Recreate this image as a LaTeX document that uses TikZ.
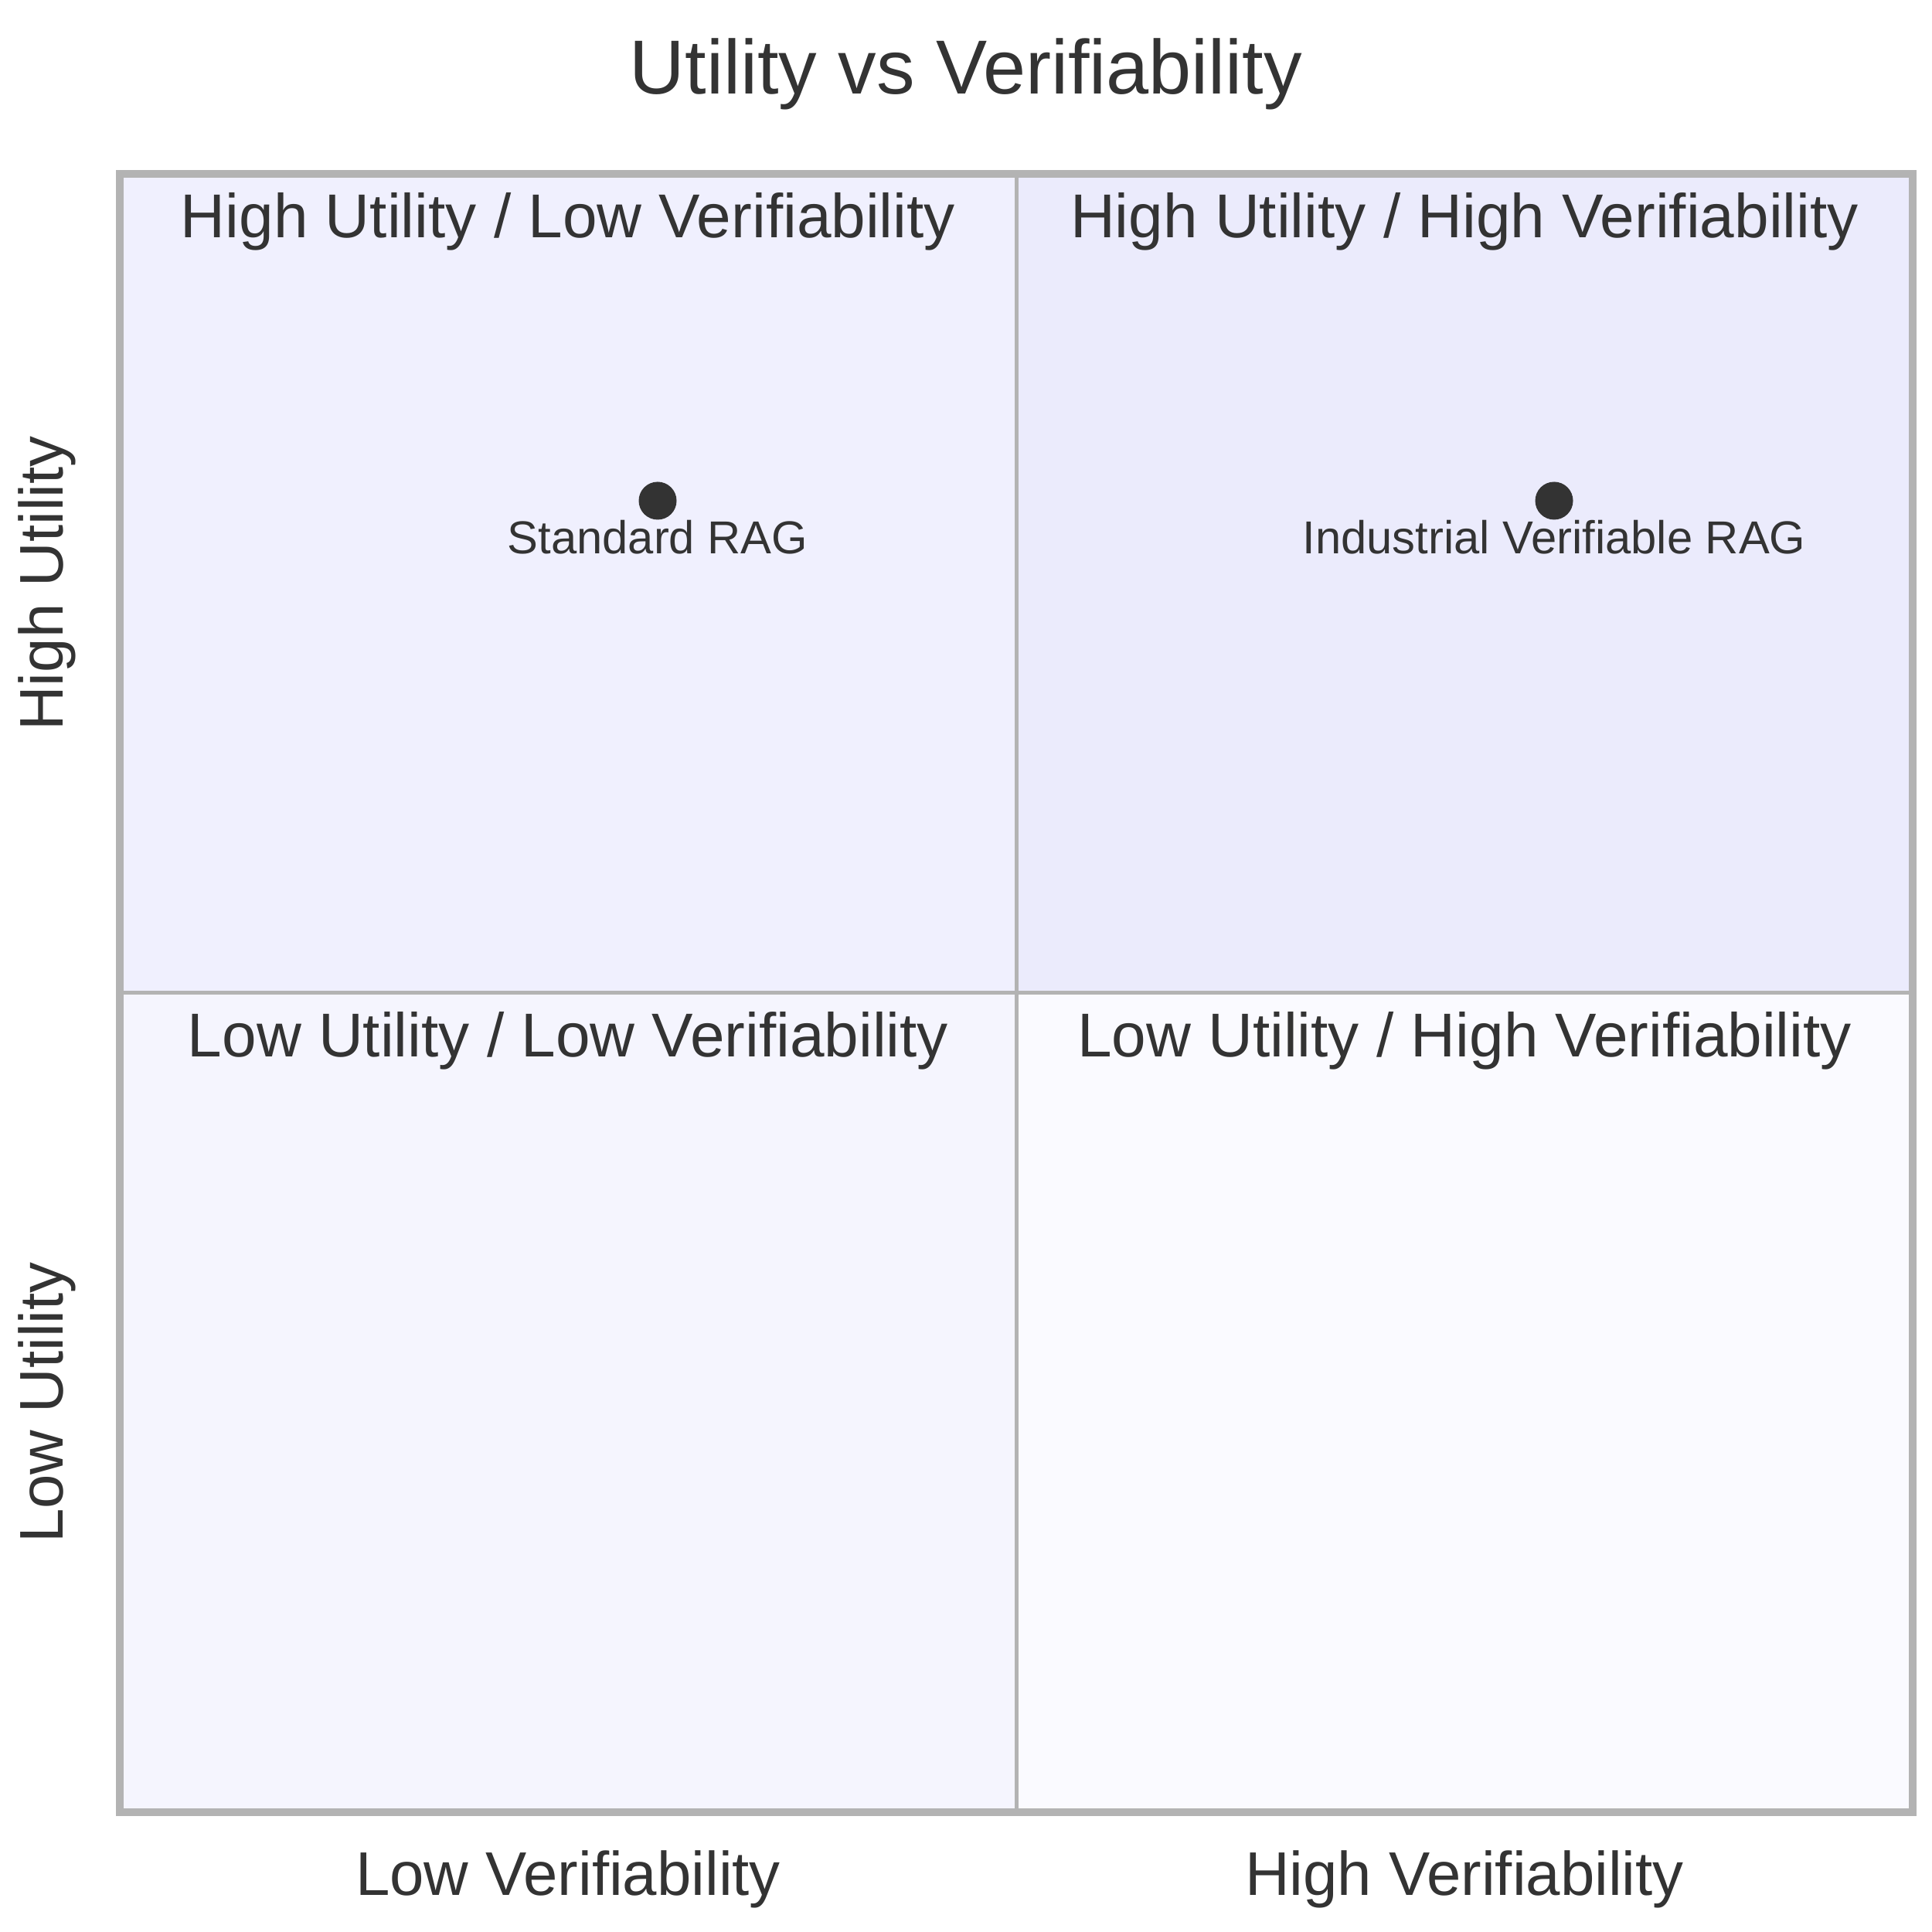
\documentclass[tikz,border=0pt]{standalone}
\usepackage{fontspec}
\setmainfont{Liberation Sans}
\definecolor{inktext}{HTML}{333333}
\definecolor{gridgray}{HTML}{B3B3B3}
\definecolor{quadTR}{HTML}{EBEBFC}
\definecolor{quadTL}{HTML}{F0F0FE}
\definecolor{quadBL}{HTML}{F5F5FE}
\definecolor{quadBR}{HTML}{FAFAFF}
\begin{document}
\begin{tikzpicture}[
    quadtext/.style={anchor=base, text=inktext, inner sep=0pt, font=\fontsize{22.8}{27}\selectfont},
    axistext/.style={anchor=base, text=inktext, inner sep=0pt, font=\fontsize{22.7}{27}\selectfont},
    ptdot/.style={circle, fill=inktext, minimum size=0.49cm, inner sep=0pt},
    ptlabel/.style={anchor=base, text=inktext, inner sep=0pt, font=\fontsize{17.0}{20}\selectfont}
  ]
    \useasboundingbox (0,0) rectangle (25,25);
    % Frame
    \coordinate (sw) at (1.55,1.55);
    \coordinate (ne) at (24.75,22.75);
    \coordinate (mid) at (13.15,12.15);
    \coordinate (midS) at (13.15,1.55);
    \coordinate (midN) at (13.15,22.75);
    \coordinate (midW) at (1.55,12.15);
    \coordinate (midE) at (24.75,12.15);
    \fill[quadTL] (midW) rectangle (midN);
    \fill[quadTR] (mid) rectangle (ne);
    \fill[quadBL] (sw) rectangle (mid);
    \fill[quadBR] (midS) rectangle (midE);
    \draw[gridgray, line width=1.42pt] (midS) -- (midN);
    \draw[gridgray, line width=1.42pt] (midW) -- (midE);
    \draw[gridgray, line width=2.85pt] (sw) rectangle (ne);

    % Title
    \node[anchor=base, text=inktext, inner sep=0pt, font=\fontsize{28.2}{33}\selectfont] (title) at (12.5,23.78) {Utility vs Verifiability};

    % Quadrant names
    \node[quadtext] (q2) at (7.35,21.92) {High Utility / Low Verifiability};
    \node[quadtext] (q1) at (18.95,21.92) {High Utility / High Verifiability};
    \node[quadtext] (q3) at (7.35,11.32) {Low Utility / Low Verifiability};
    \node[quadtext] (q4) at (18.95,11.32) {Low Utility / High Verifiability};

    % Axes
    \node[axistext] (xlow) at (7.35,0.47) {Low Verifiability};
    \node[axistext] (xhigh) at (18.95,0.47) {High Verifiability};
    \node[axistext, rotate=90] (yhigh) at (0.82,17.45) {High Utility};
    \node[axistext, rotate=90] (ylow) at (0.82,6.85) {Low Utility};

    % Points
    \node[ptdot] (pt1) at (8.51,18.52) {};
    \node[ptlabel] (pt1label) at (8.51,17.83) {Standard RAG};
    \node[ptdot] (pt2) at (20.11,18.52) {};
    \node[ptlabel] (pt2label) at (20.11,17.83) {Industrial Verifiable RAG};
\end{tikzpicture}
\end{document}
